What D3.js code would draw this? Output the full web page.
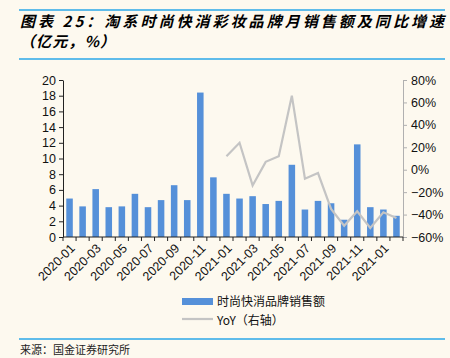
<!DOCTYPE html>
<html>
<head>
<meta charset="utf-8">
<script src="https://cdn.jsdelivr.net/npm/d3@7"></script>
<style>
  body { margin: 0; background: #fdf9ef; }
  svg { display: block; }
  text { font-family: "Liberation Sans", Arial, sans-serif; }
</style>
</head>
<body>
<svg width="450" height="358"></svg>
<script>
// months (last two labels as printed in the source chart)
var months = ["2020-01","2020-02","2020-03","2020-04","2020-05","2020-06","2020-07","2020-08",
  "2020-09","2020-10","2020-11","2020-12","2021-01","2021-02","2021-03","2021-04","2021-05",
  "2021-06","2021-07","2021-08","2021-09","2021-10","2021-11","2021-12","2021-01 ","2021-02 "];
var sales = [4.9, 3.9, 6.1, 3.8, 3.9, 5.5, 3.8, 4.7, 6.6, 4.7, 18.4, 7.6, 5.5,
             4.9, 5.2, 4.2, 4.6, 9.2, 3.5, 4.6, 4.3, 2.2, 11.8, 3.8, 3.5, 2.7];
// YoY only from 2021-01 on
var yoy = [null,null,null,null,null,null,null,null,null,null,null,null, 12,
           24, -14, 7, 12, 66, -8, -3, -35, -50, -37, -52, -38, -43];
var leftTicks = [0,2,4,6,8,10,12,14,16,18,20];
var rightTicks = [-0.6,-0.4,-0.2,0,0.2,0.4,0.6,0.8];

var svg = d3.select("svg");
var x0 = 63, x1 = 403, yTop = 80, yBot = 237;

// header
svg.append("line").attr("x1",19).attr("x2",445).attr("y1",10).attr("y2",10)
  .attr("stroke","#2aa7e8").attr("stroke-width",1.5);
svg.append("line").attr("x1",19).attr("x2",445).attr("y1",59).attr("y2",59)
  .attr("stroke","#2aa7e8").attr("stroke-width",1.5);
svg.append("text").attr("x",20).attr("y",27)
  .attr("textLength",424).attr("lengthAdjust","spacing")
  .style("font-family","'Noto Sans CJK SC'").style("font-size","15px")
  .style("font-weight","bold").style("font-style","italic")
  .text("图表 25：淘系时尚快消彩妆品牌月销售额及同比增速");
svg.append("text").attr("x",20).attr("y",47)
  .attr("textLength",95).attr("lengthAdjust","spacing")
  .style("font-family","'Noto Sans CJK SC'").style("font-size","15px")
  .style("font-weight","bold").style("font-style","italic")
  .text("（亿元，%）");

var scX = d3.scaleBand().domain(months).range([x0, x1]).paddingInner(0.5).paddingOuter(0.25);
var scY = d3.scaleLinear().domain([0, 20]).range([yBot, yTop]);
var scY2 = d3.scaleLinear().domain([-0.6, 0.8]).range([yBot, yTop]);

svg.append("g").selectAll("rect").data(sales).enter().append("rect")
  .attr("x", (d, i) => scX(months[i]))
  .attr("width", scX.bandwidth())
  .attr("y", d => scY(d))
  .attr("height", d => yBot - scY(d))
  .attr("fill", "#5590d9");

var lineMaker = d3.line()
  .defined(d => d !== null)
  .x((d, i) => scX(months[i]) + scX.bandwidth() / 2)
  .y(d => scY2(d / 100));
svg.append("path").attr("d", lineMaker(yoy))
  .attr("fill","none").attr("stroke","#c4c4c4").attr("stroke-width",2.2);

// left axis
var gl = svg.append("g").attr("transform","translate(" + x0 + ",0)")
  .call(d3.axisLeft(scY).tickValues(leftTicks).tickSize(4).tickSizeOuter(0));
gl.select(".domain").attr("stroke","#222");
gl.selectAll(".tick line").attr("stroke","#222");
gl.selectAll("text").style("font-size","12.5px").attr("fill","#111").attr("x",-7);

// right axis
var gr = svg.append("g").attr("transform","translate(" + x1 + ",0)")
  .call(d3.axisRight(scY2).tickValues(rightTicks).tickFormat(d3.format(".0%")).tickSize(4).tickSizeOuter(0));
gr.select(".domain").attr("stroke","#b0b0b0");
gr.selectAll(".tick line").attr("stroke","#b0b0b0");
gr.selectAll("text").style("font-size","12.5px").attr("fill","#111").attr("x",8);

// x axis: ticks at category boundaries
var bounds = d3.range(months.length + 1).map(i => x0 + i * (x1 - x0) / months.length);
var gx = svg.append("g");
gx.append("line").attr("x1",x0).attr("x2",x1).attr("y1",yBot).attr("y2",yBot).attr("stroke","#222");
gx.selectAll("line.tk").data(bounds).enter().append("line").attr("class","tk")
  .attr("x1", d => d).attr("x2", d => d).attr("y1", yBot).attr("y2", yBot + 4).attr("stroke","#222");
gx.selectAll("text").data(months.filter((m, i) => i % 2 === 0)).enter().append("text")
  .attr("transform", d => "translate(" + (scX(d) + scX.bandwidth() / 2 + 3) + "," + (yBot + 9) + ") rotate(-45)")
  .attr("text-anchor","end").attr("dy","0.35em")
  .style("font-size","12.5px").attr("fill","#111")
  .text(d => d.trim());

// legend
var lg = svg.append("g");
lg.append("rect").attr("x",182).attr("y",298).attr("width",31).attr("height",7).attr("fill","#5590d9");
lg.append("line").attr("x1",182).attr("x2",213).attr("y1",319).attr("y2",319).attr("stroke","#c4c4c4").attr("stroke-width",2.2);
lg.append("text").attr("x",217).attr("y",306).style("font-family","'Noto Sans CJK SC'")
  .style("font-size","12px").attr("fill","#111").text("时尚快消品牌销售额");
lg.append("text").attr("x",217).attr("y",324.5).style("font-family","'Noto Sans CJK SC'")
  .style("font-size","12px").attr("fill","#111").text("YoY（右轴）");

// footer
svg.append("line").attr("x1",19).attr("x2",445).attr("y1",339).attr("y2",339)
  .attr("stroke","#2aa7e8").attr("stroke-width",1.5);
svg.append("text").attr("x",20).attr("y",354).style("font-family","'Noto Sans CJK SC'")
  .style("font-size","11px").attr("fill","#222").text("来源：国金证券研究所");
</script>
</body>
</html>
